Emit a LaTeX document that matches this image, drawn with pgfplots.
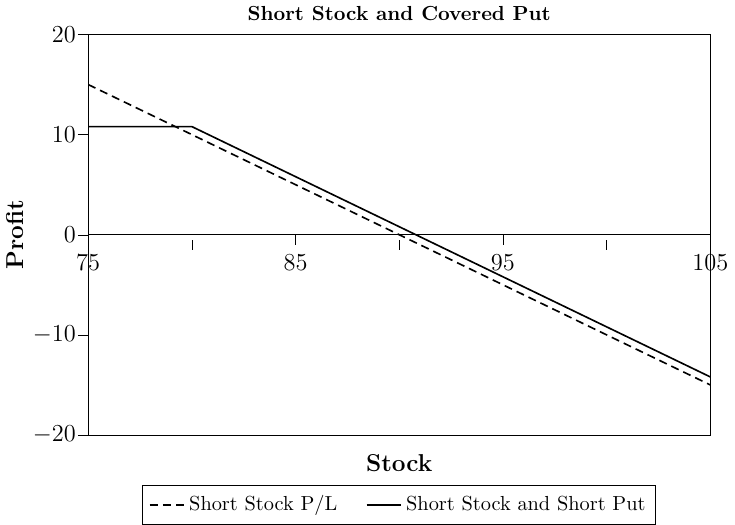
\documentclass[border=0pt]{standalone}
\usepackage{pgfplots}
\pgfplotsset{compat=1.18}
\pgfplotstableread{
x y
75 15
105 -15
}\shortstock
\pgfplotstableread{
x y
75 10.8
80 10.8
105 -14.2
}\combo
\begin{document}
\begin{tikzpicture}
\begin{axis}[
  name=main,
  scale only axis,
  width=306pt, height=197pt,
  xmin=75, xmax=105, ymin=-20, ymax=20,
  xtick=\empty,
  ytick=\empty,
  title={\textbf{Short Stock and Covered Put}},
  title style={font=\normalsize, yshift=-3pt},
  ylabel={\textbf{Profit}},
  ylabel style={font=\large, yshift=28pt},
  xlabel={\textbf{Stock}},
  xlabel style={font=\large, yshift=-6pt},
  legend style={at={(0.5,-0.125)}, anchor=north, legend columns=2, draw=black,
    font=\normalsize, /tikz/every even column/.append style={column sep=12pt},
    inner sep=3pt},
  legend cell align=left,
]
\addplot[black, thick, dashed, dash pattern=on 4pt off 2.5pt] table[x=x,y=y]{\shortstock};
\addlegendentry{Short Stock P/L}
\addplot[black, thick] table[x=x,y=y]{\combo};
\addlegendentry{Short Stock and Short Put}
\end{axis}
\begin{axis}[
  scale only axis,
  width=306pt, height=197pt,
  xmin=75, xmax=105, ymin=-20, ymax=20,
  axis x line=middle, axis y line=left,
  axis line style={-},
  hide obscured x ticks=false,
  hide obscured y ticks=false,
  xtick={75,85,95,105},
  minor xtick={80,90,100},
  ytick={-20,-10,0,10,20},
  y tick label style={font=\large},
  x tick label style={font=\large, yshift=-4pt},
  major tick length=5pt, minor tick length=5pt,
  x tick style={black, yshift=-2.5pt},
  minor x tick style={black, yshift=-2.5pt},
  y tick style={black, xshift=-2.5pt},
]
\end{axis}
\end{tikzpicture}
\end{document}
